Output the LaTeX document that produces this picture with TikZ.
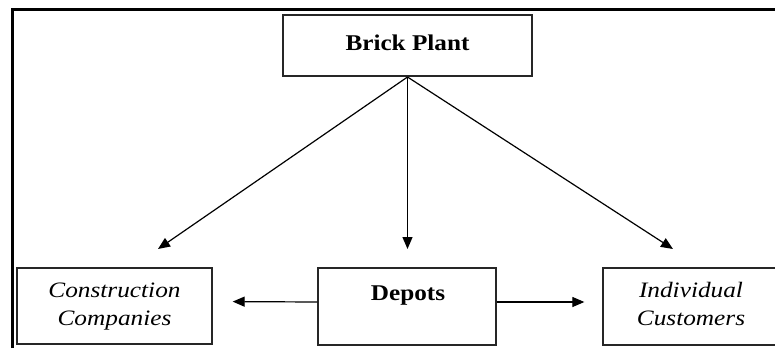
\documentclass[tikz,border=0pt]{standalone}
\usepackage{fontspec}
\setmainfont{Liberation Serif}
\newfontfamily\bfont[FakeStretch=1.12]{Liberation Serif Bold}
\newfontfamily\ifont[FakeStretch=1.15]{Liberation Serif Italic}
\usetikzlibrary{arrows.meta}
\begin{document}
\begin{tikzpicture}[x=1pt,y=-1pt,
  box/.style={draw=black!85, line width=1.3pt, rectangle, inner sep=0pt},
  arr/.style={draw=black, line width=1.2pt, -{Triangle[length=12pt,width=10pt]}},
  bold/.style={font=\bfont\fontsize{22.5}{26}\selectfont, inner sep=0pt, anchor=base},
  ital/.style={font=\ifont\fontsize{22}{28}\selectfont, inner sep=0pt, anchor=base}]
\useasboundingbox (0,0) rectangle (775,348);
\clip (0,0) rectangle (775,348);
\fill[white] (0,0) rectangle (775,348);
% outer frame (cropped)
\draw[line width=3pt] (12.5,348) -- (12.5,9.5) -- (775,9.5);
% boxes
\node[box, minimum width=249pt, minimum height=61pt] (plant) at (407.5,45.5) {};
\node[box, minimum width=178pt, minimum height=77pt] (depots) at (407,306.5) {};
\node[box, minimum width=195pt, minimum height=76pt] (cc) at (114.5,306) {};
\node[box, minimum width=174pt, minimum height=77pt] (ic) at (690,306.5) {};
% texts
\node[bold] (plantt) at (407.5,50) {Brick Plant};
\node[bold] (depotst) at (408,300) {Depots};
\node[ital] (cct1) at (114.5,297) {Construction};
\node[ital] (cct2) at (114.5,325) {Companies};
\node[ital] (ict1) at (691,297) {Individual};
\node[ital] (ict2) at (691,325) {Customers};
% arrow tips
\coordinate (tipL) at (158,249);
\coordinate (tipM) at (407.5,249);
\coordinate (tipR) at (673,249);
\coordinate (top) at (407.5,77);
\draw[arr] (top) -- (tipL);
\draw[arr] (top) -- (tipM);
\draw[arr] (top) -- (tipR);
\draw[arr, shorten >=20pt] ([yshift=4.5pt]depots.west) -- ([yshift=4.5pt]cc.east);
\draw[arr, shorten >=18pt] ([yshift=4.5pt]depots.east) -- ([yshift=4.5pt]ic.west);
\end{tikzpicture}
\end{document}
